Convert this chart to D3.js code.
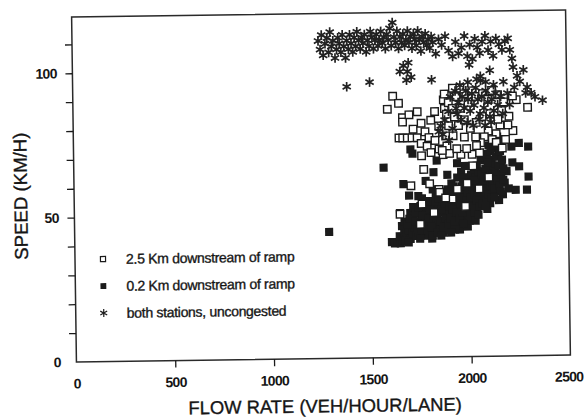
<!DOCTYPE html>
<html>
<head>
<meta charset="utf-8">
<script src="https://cdn.jsdelivr.net/npm/d3@7"></script>
<style>
  html, body { margin: 0; padding: 0; background: #fff; }
  svg { display: block; }
  text { font-family: "Liberation Sans", Arial, Helvetica, sans-serif; fill: #151515; }
</style>
</head>
<body>
<svg id="chart" width="584" height="419"></svg>
<script>
// ---- data: [flow (veh/hour/lane), speed (km/h)] ----
const xTickValues = [0, 500, 1000, 1500, 2000, 2500];
const yTickValues = [0, 10, 20, 30, 40, 50, 60, 70, 80, 90, 100, 110];
const yLabelledTicks = [0, 50, 100];
const xTitle = "FLOW RATE (VEH/HOUR/LANE)";
const yTitle = "SPEED (KM/H)";
const seriesNames = ["2.5 Km downstream of ramp", "0.2 Km downstream of ramp", "both stations, uncongested"];

// 2.5 km station (open squares)
const station25 = [
  [1591,86],[1619,90.5],[1648,88],[1667,83],[1667,81.5],[1742,85],[1761,81],[1700,84],[1720,79],
  [1648,76],[1667,76],[1690,76],[1714,76],[1740,76],[1760,74],[1790,73],[1809,70.8],[1761,69.7],
  [1771,65],[1705,59.4],[1648,49.6],[1847,58],[1913,54.6],[1780,78],[1800,76],[1830,75],[1850,72],
  [1870,70],[1890,73],[1810,82],[1830,85],[1850,80],[1880,86],[1900,80],
  [1922,93],[1875,89],[1880,91],[1900,88],[1920,86],[1940,90],[1960,93],[1980,91],[2000,88],
  [2020,92],[2040,90],[2074,91],[2100,89],[2120,92],[2150,90.5],[2169,85],[2180,88],[2206,83],
  [2225,78],[2187,75],[2244,88.7],[2225,90],[2301,86],[2200,80],[2160,80],[2140,77],[2120,75],
  [2100,78],[2080,76],[2060,74],[2036,76],[1979,76],[1922,76.5],[1884,76.5],[1960,70],[2017,70],
  [2055,70.5],[1903,70.4],[1866,71.5],[1940,72],[1990,72],[2040,73],[2140,74],[2170,72],[1950,80],
  [1980,82],[2010,79],[2040,81],[2070,83],[2110,84],[2150,82],[1930,83],[1890,84],[1960,86],
  [1800,60],[1850,57],[1880,55],[1940,58],[1990,60],[2050,58],[2100,62],[1760,53],[1820,50],
  [1750,46],[1980,52],[2020,66]
];

// 0.2 km station (filled squares)
const station02 = [
  [1605,40],[1620,39.5],[1635,40],[1650,39.5],[1660,40.5],[1645,42],[1657,45.5],[1648,50],[1667,60],
  [1695,56],[1668,43],[1680,42],[1690,44],[1700,41],[1705,46],[1710,43],[1715,48],[1720,45],[1700,50],
  [1715,52],[1730,42],[1735,45],[1740,47],[1745,50],[1750,44],[1752,42],[1755,48],[1760,46],[1765,51],
  [1770,43],[1775,49],[1780,45],[1752,52.3],[1742,55.8],[1760,55],[1790,42],[1795,46],[1800,48],
  [1805,44],[1809,41],[1810,50],[1815,47],[1820,43],[1825,52],[1830,45],[1835,49],[1840,46],[1845,53],
  [1850,44],[1830,56],[1850,50],[1800,53],[1815,58],[1860,47],[1865,43],[1870,50],[1875,45],[1880,52],
  [1885,48],[1890,44],[1895,55],[1900,50],[1905,46],[1910,53],[1915,49],[1920,45],[1870,56],[1890,58],
  [1910,60],[1860,54],[1900,57],[1930,48],[1935,52],[1940,46],[1945,55],[1950,50],[1955,58],[1960,47],
  [1965,53],[1970,60],[1975,49],[1980,56],[1985,51],[1990,62],[1995,48],[1940,62],[1960,64],[1980,66],
  [1950,44],[1990,45],[2000,54],[2005,58],[2010,50],[2015,61],[2020,55],[2025,64],[2030,52],[2035,59],
  [2040,66],[2045,53],[2050,62],[2055,57],[2060,68],[2000,47],[2020,49],[2040,51],[2060,55],[2010,63],
  [2050,60],[2070,59],[2075,64],[2080,55],[2085,61],[2090,70],[2095,58],[2100,66],[2105,53],[2110,62],
  [2115,68],[2120,57],[2125,72],[2130,60],[2070,69],[2100,73],[2090,51],[2115,64],[2140,63],[2145,58],
  [2150,70],[2155,74],[2160,61],[2165,66],[2170,56],[2180,60],[2190,64],[2150,54],[2200,58],
  [2216,72.5],[2254,73.7],[2301,72.4],[2254,65.6],[2301,62],[2235,57.5],[2292,57.5],[2220,67],
  [1705,72],[1715,70.5],[1837,68],[2090,69.5],[1568,65.8],[1288,43.8],[1820,64],[1780,61],[1940,67],
  [1890,63],
  [1670,47],[1685,46],[1695,48],[1675,40.5],[1690,39.8],
  [1725,47],[1738,43],[1748,41],[1758,44],[1728,50],[1740,52],[1762,49],
  [1785,44],[1792,48],[1798,51],[1808,45],[1818,49],[1822,54],[1788,54],[1812,42],
  [1838,43],[1842,50],[1852,47],[1858,51],[1866,45],[1872,53],[1878,48],[1855,42],[1882,55],[1845,55],
  [1893,46],[1898,52],[1903,48],[1908,56],[1915,51],[1922,47],[1926,54],[1932,50],[1938,57],[1925,44],
  [1918,59],[1905,43],
  [1948,48],[1953,53],[1958,56],[1962,50],[1968,46],[1972,55],[1977,52],[1983,58],[1988,54],[1993,57],
  [1998,51],[1970,62],[1960,59],[2000,60],
  [2003,49],[2008,55],[2013,52],[2018,58],[2023,50],[2028,56],[2033,62],[2038,54],[2043,57],[2048,64],
  [2053,52],[2058,60],[2063,57],[2030,47],[2045,49],[2025,61],[2065,63],
  [2068,53],[2073,61],[2078,57],[2083,65],[2088,54],[2093,62],[2098,56],[2103,68],[2108,59],[2113,55],
  [2118,63],[2123,66],[2080,52],[2110,71],[2095,67],[2120,60],
  [2128,58],[2133,64],[2138,69],[2143,61],[2148,66],[2153,59],[2158,71],[2163,63],[2168,68],[2173,61],
  [2135,73],[2145,76],[2160,57],[2175,65],[2128,55]
];

// both stations, uncongested (asterisks)
const uncongested = [
  [1245,110],[1255,107],[1262,112],[1270,105],[1280,109],[1290,111],[1298,106],[1305,113],[1312,108],
  [1320,110],[1330,104],[1338,107],[1345,111],[1352,109],[1360,106],[1368,112],[1375,108],[1383,104],
  [1390,110],[1398,107],[1405,112],[1412,109],[1420,106],[1428,111],[1435,108],[1442,113],[1450,110],
  [1458,107],[1465,111],[1472,109],[1480,112],[1488,106],[1495,110],[1503,108],[1510,113],[1518,111],
  [1525,107],[1533,110],[1540,112],[1548,108],[1555,110],[1563,113],[1570,109],[1578,111],[1585,107],
  [1593,112],[1600,110],[1608,114],[1615,108],[1622,116],[1630,111],[1638,109],[1645,113],[1652,107],
  [1660,111],[1668,109],[1675,112],[1683,108],[1690,110],[1698,113],[1705,109],[1712,111],[1720,107],
  [1728,112],[1735,110],[1742,108],[1750,113],[1758,110],[1765,106],[1772,111],[1780,109],[1788,112],
  [1795,108],[1802,110],[1810,107],[1818,111],[1825,109],[1840,105],[1855,110],[1870,108],[1888,111],
  [1905,106],[1925,104],[1940,109],[1955,105],[1970,107],[1985,111],[2000,104],[2012,108],[2025,103],
  [2038,110],[2050,107],[2062,105],[2075,109],[2090,111],[2105,106],[2118,109],[2130,104],[2145,110],
  [2160,108],[2175,106],[2190,109],[2205,110],[2215,106],[2225,103],
  [1657,99],[1675,101],[1695,99],[1714,97],[1700,102],[1690,96],[1817,96],[1387,94],[1503,95.5],
  [2008,101],[2064,97],[2112,99],[2064,95.5],[2230,100],[2250,97],[2263,95],[2235,93],[2282,99],
  [2292,91],[2339,89.6],[2377,88.4],[2300,93],[2320,91],
  [1935,92],[1950,88],[1960,94],[1970,90],[1980,86],[1990,92],[2000,89],[2010,85],[2020,91],[2030,87],
  [2040,93],[2050,89],[2060,84],[2070,90],[2080,86],[2090,92],[2100,88],[2110,83],[2120,89],[2130,85],
  [2140,91],[2150,87],[2165,90],[2175,84],[1945,84],[1965,82],[1995,81],[2025,80],[2055,82],[2085,80],
  [2115,81],[1940,86],[2000,95],[2045,96],[2090,95],[2130,94],[2180,95],[2200,91],[2210,87],[1910,90],
  [1900,85],[1880,82],[1860,80],[1870,77],[1850,78],[1900,75],[1920,79]
];

// ---- layout ----
const frame = { left: 74, right: 568, top: 13.5, bottom: 358.5 };
const ink = "#1b1b1b";

const x = d3.scaleLinear().domain([0, 2500]).range([frame.left, frame.right]);
const y = d3.scaleLinear().domain([0, 119.5]).range([frame.bottom, frame.top]);

const svg = d3.select("#chart");
svg.append("rect").attr("width", 584).attr("height", 419).attr("fill", "#fff");

// the whole figure sits with a slight tilt
const g = svg.append("g").attr("transform", "rotate(-0.8 321 186)");

// plot border
g.append("rect")
  .attr("x", frame.left).attr("y", frame.top)
  .attr("width", frame.right - frame.left).attr("height", frame.bottom - frame.top)
  .attr("fill", "none").attr("stroke", "#2a2a2a").attr("stroke-width", 1.5);

// x axis
const xAxis = d3.axisBottom(x)
  .tickValues(xTickValues)
  .tickSizeInner(7).tickSizeOuter(0).tickPadding(9.5)
  .tickFormat(d3.format("d"));
const gx = g.append("g").attr("transform", `translate(0,${frame.bottom})`).call(xAxis);
gx.select(".domain").remove();
gx.selectAll(".tick line")
  .attr("stroke", ink).attr("stroke-width", 1.3)
  .attr("y2", d => (d === 0 || d === 2500) ? 0 : 7);
gx.selectAll(".tick text")
  .attr("font-size", 14).attr("font-family", "Liberation Sans, Arial, sans-serif")
  .attr("fill", "#151515").style("font-weight", "bold").attr("letter-spacing", -0.7)
  .attr("dx", d => d === 2500 ? -2 : 0);

// y axis
const yAxis = d3.axisLeft(y)
  .tickValues(yTickValues)
  .tickSizeInner(7).tickSizeOuter(0).tickPadding(8.5)
  .tickFormat(d => yLabelledTicks.includes(d) ? String(d) : "");
const gy = g.append("g").attr("transform", `translate(${frame.left},0)`).call(yAxis);
gy.select(".domain").remove();
gy.selectAll(".tick line")
  .attr("stroke", ink).attr("stroke-width", 1.3)
  .attr("x2", d => d === 0 ? 0 : -7);
gy.selectAll(".tick text")
  .attr("font-size", 14).attr("font-family", "Liberation Sans, Arial, sans-serif")
  .attr("fill", "#151515").style("font-weight", "bold").attr("letter-spacing", -0.6);

// axis titles
g.append("text")
  .attr("x", (frame.left + frame.right) / 2 + 1).attr("y", 412.5)
  .attr("text-anchor", "middle").attr("font-size", 18.4)
  .attr("stroke", "#151515").attr("stroke-width", 0.35)
  .text(xTitle);
g.append("text")
  .attr("transform", "translate(27,192) rotate(-90)")
  .attr("text-anchor", "middle").attr("font-size", 18.6)
  .attr("stroke", "#151515").attr("stroke-width", 0.35)
  .text(yTitle);

// markers
const square = d3.symbol().type(d3.symbolSquare);
const star = d3.symbol().type(d3.symbolAsterisk);

const marks = g.append("g");

marks.append("g").selectAll("path").data(station02).join("path")
  .attr("transform", d => `translate(${x(d[0])},${y(d[1])})`)
  .attr("d", square.size(66)())
  .attr("fill", ink).attr("stroke", "none");

marks.append("g").selectAll("path").data(station25).join("path")
  .attr("transform", d => `translate(${x(d[0])},${y(d[1])})`)
  .attr("d", square.size(56)())
  .attr("fill", "#fff").attr("stroke", ink).attr("stroke-width", 1.4);

marks.append("g").selectAll("path").data(uncongested).join("path")
  .attr("transform", d => `translate(${x(d[0])},${y(d[1])})`)
  .attr("d", star.size(64)())
  .attr("fill", "none").attr("stroke", "#222").attr("stroke-width", 1.7);

// legend
const legend = g.append("g").attr("transform", "translate(102,256)");
const legendRows = legend.selectAll("g").data(seriesNames).join("g")
  .attr("transform", (d, i) => `translate(0,${i * 27})`);
legendRows.append("path")
  .attr("d", (d, i) => i === 2 ? star.size(44)() : square.size(i === 0 ? 26 : 34)())
  .attr("fill", (d, i) => i === 1 ? ink : (i === 0 ? "#fff" : "none"))
  .attr("stroke", ink).attr("stroke-width", (d, i) => i === 1 ? 0 : 1.2);
legendRows.append("text")
  .attr("x", 23).attr("dy", "0.36em")
  .attr("font-size", 14).attr("letter-spacing", -0.3)
  .attr("stroke", "#151515").attr("stroke-width", 0.35)
  .text(d => d);
</script>
</body>
</html>
